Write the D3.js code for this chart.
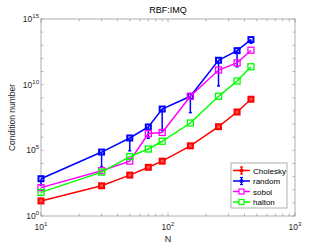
<!DOCTYPE html>
<html>
<head>
<meta charset="utf-8">
<script src="https://cdn.jsdelivr.net/npm/d3@7"></script>
<style>
  body { margin: 0; background: #fff; }
  svg { display: block; font-family: "Liberation Sans", Arial, sans-serif; }
</style>
</head>
<body>
<div id="chart"></div>
<script>
(function(d3) {
  'use strict';

  var width = 327;
  var height = 245;
  var margin = {top: 19, right: 32, bottom: 29, left: 41};

  // data
  var N = [10, 30, 50, 70, 90, 150, 250, 350, 450];
  var cholesky = [14, 200, 1300, 5100, 1.5e4, 2.2e5, 6.3e6, 8.3e7, 7.8e8];
  var random = [690, 7.4e4, 8.7e5, 6.0e6, 1.4e8, 1.3e9, 7.2e11, 3.9e12, 2.7e13];
  var randomLow = [230, 5600, 9.3e4, 8.3e5, 3.2e6, 7.4e7, 8e9, 2.3e11, 1.45e13];
  var sobol = [145, 2800, 1.5e4, 1.9e6, 2.3e6, 1.3e9, 1.3e11, 4.5e11, 4.2e12];
  var halton = [63, 2200, 3.3e4, 1.26e5, 4.9e5, 1.2e7, 1.3e9, 1.9e10, 2.3e11];
  var xTicks = [10, 100, 1000];
  var yTicks = [1, 1e5, 1e10, 1e15];

  var series = [
    {name: 'Cholesky', values: cholesky, color: '#ff0000', low: null, errorbar: true},
    {name: 'random', values: random, color: '#0000ff', low: randomLow, errorbar: true},
    {name: 'sobol', values: sobol, color: '#ff00ff', low: null, errorbar: false},
    {name: 'halton', values: halton, color: '#00ff00', low: null, errorbar: false}
  ];

  var svg = d3.select('#chart')
    .append('svg')
    .attr('width', width)
    .attr('height', height);

  var iw = width - margin.left - margin.right;
  var ih = height - margin.top - margin.bottom;

  var x = d3.scaleLog().domain([10, 1000]).range([0, iw]);
  var y = d3.scaleLog().domain([1, 1e15]).range([ih, 0]);

  var g = svg.append('g')
    .attr('transform', 'translate(' + margin.left + ',' + margin.top + ')');

  var axisColor = '#8c8c8c';
  var tickLen = 2.5;

  // minor + major x ticks (bottom and top)
  var xAll = [];
  [10, 100].forEach(function(b) {
    for (var k = 1; k < 10; k++) xAll.push(b * k);
  });
  xAll.push(1000);
  var yAll = d3.range(0, 16).map(function(e) { return Math.pow(10, e); });

  var ticks = g.append('g').attr('stroke', axisColor).attr('stroke-width', 0.6);
  xAll.forEach(function(v) {
    var len = (xTicks.indexOf(v) >= 0) ? tickLen + 1 : tickLen;
    ticks.append('line').attr('x1', x(v)).attr('x2', x(v)).attr('y1', ih).attr('y2', ih - len);
    ticks.append('line').attr('x1', x(v)).attr('x2', x(v)).attr('y1', 0).attr('y2', len);
  });
  yAll.forEach(function(v) {
    ticks.append('line').attr('x1', 0).attr('x2', tickLen).attr('y1', y(v)).attr('y2', y(v));
    ticks.append('line').attr('x1', iw).attr('x2', iw - tickLen).attr('y1', y(v)).attr('y2', y(v));
  });

  g.append('rect')
    .attr('width', iw)
    .attr('height', ih)
    .attr('fill', 'none')
    .attr('stroke', axisColor)
    .attr('stroke-width', 0.7);

  // tick labels with superscripts
  xTicks.forEach(function(v) {
    var t = g.append('text')
      .attr('x', x(v))
      .attr('y', ih + 14)
      .attr('text-anchor', 'middle')
      .attr('font-size', 8.5)
      .attr('fill', '#262626');
    t.append('tspan').text('10');
    t.append('tspan').attr('dy', -4).attr('font-size', 6).text(Math.round(Math.log10(v)));
  });
  yTicks.forEach(function(v) {
    var t = g.append('text')
      .attr('x', -2)
      .attr('y', y(v) + 3)
      .attr('text-anchor', 'end')
      .attr('font-size', 8.5)
      .attr('fill', '#262626');
    t.append('tspan').text('10');
    t.append('tspan').attr('dy', -4).attr('font-size', 6).text(Math.round(Math.log10(v)));
  });

  svg.append('text')
    .attr('x', margin.left + iw / 2)
    .attr('y', 13)
    .attr('text-anchor', 'middle')
    .attr('font-size', 9)
    .attr('fill', '#000')
    .text('RBF:IMQ');

  svg.append('text')
    .attr('x', margin.left + iw / 2)
    .attr('y', 242)
    .attr('text-anchor', 'middle')
    .attr('font-size', 9)
    .attr('fill', '#262626')
    .text('N');

  svg.append('text')
    .attr('transform', 'translate(15,' + (margin.top + ih / 2) + ') rotate(-90)')
    .attr('text-anchor', 'middle')
    .attr('font-size', 8.5)
    .attr('fill', '#262626')
    .text('Condition number');

  var line = d3.line()
    .x(function(d) { return x(d[0]); })
    .y(function(d) { return y(d[1]); });

  series.forEach(function(s) {
    var pts = N.map(function(n, i) { return [n, s.values[i]]; });
    var sg = g.append('g');

    if (s.low) {
      var eb = sg.append('g').attr('stroke', s.color).attr('stroke-width', 1.5);
      N.forEach(function(n, i) {
        var cx = x(n);
        var ly = y(s.low[i]);
        eb.append('line').attr('x1', cx).attr('x2', cx).attr('y1', ly).attr('y2', y(s.values[i]));
        eb.append('line').attr('x1', cx - 1.5).attr('x2', cx + 1.5).attr('y1', ly).attr('y2', ly);
      });
    }

    sg.append('path')
      .attr('d', line(pts))
      .attr('fill', 'none')
      .attr('stroke', s.color)
      .attr('stroke-width', 1.5);

    var sz = s.errorbar ? 5 : 6;
    sg.selectAll('rect')
      .data(pts)
      .enter()
      .append('rect')
      .attr('x', function(d) { return x(d[0]) - sz / 2; })
      .attr('y', function(d) { return y(d[1]) - sz / 2; })
      .attr('width', sz)
      .attr('height', sz)
      .attr('fill', s.name === 'Cholesky' ? '#ff5050' : 'none')
      .attr('stroke', s.color)
      .attr('stroke-width', s.errorbar ? 2 : 1.3);
  });

  // legend
  var lg = svg.append('g').attr('transform', 'translate(231,163)');
  lg.append('rect')
    .attr('width', 56)
    .attr('height', 45)
    .attr('fill', '#fff')
    .attr('stroke', axisColor)
    .attr('stroke-width', 0.7);

  series.forEach(function(s, i) {
    var yy = 7.5 + i * 10.5;
    var item = lg.append('g').attr('transform', 'translate(0,' + yy + ')');
    item.append('line')
      .attr('x1', 2).attr('x2', 19)
      .attr('stroke', s.color)
      .attr('stroke-width', 1.5);
    if (s.errorbar) {
      item.append('line').attr('x1', 10.5).attr('x2', 10.5).attr('y1', -3.5).attr('y2', 3.5)
        .attr('stroke', s.color).attr('stroke-width', 1.2);
      item.append('line').attr('x1', 9).attr('x2', 12).attr('y1', -3.5).attr('y2', -3.5)
        .attr('stroke', s.color).attr('stroke-width', 1.2);
      item.append('line').attr('x1', 9).attr('x2', 12).attr('y1', 3.5).attr('y2', 3.5)
        .attr('stroke', s.color).attr('stroke-width', 1.2);
      item.append('circle').attr('cx', 10.5).attr('r', 1.5)
        .attr('fill', 'none').attr('stroke', s.color).attr('stroke-width', 1.2);
    } else {
      item.append('rect').attr('x', 8).attr('y', -2.5).attr('width', 5).attr('height', 5)
        .attr('fill', '#fff').attr('stroke', s.color).attr('stroke-width', 1.2);
    }
    item.append('text')
      .attr('x', 22)
      .attr('y', 3)
      .attr('font-size', 8)
      .attr('fill', '#000')
      .text(s.name);
  });

})(window.d3);
</script>
</body>
</html>
